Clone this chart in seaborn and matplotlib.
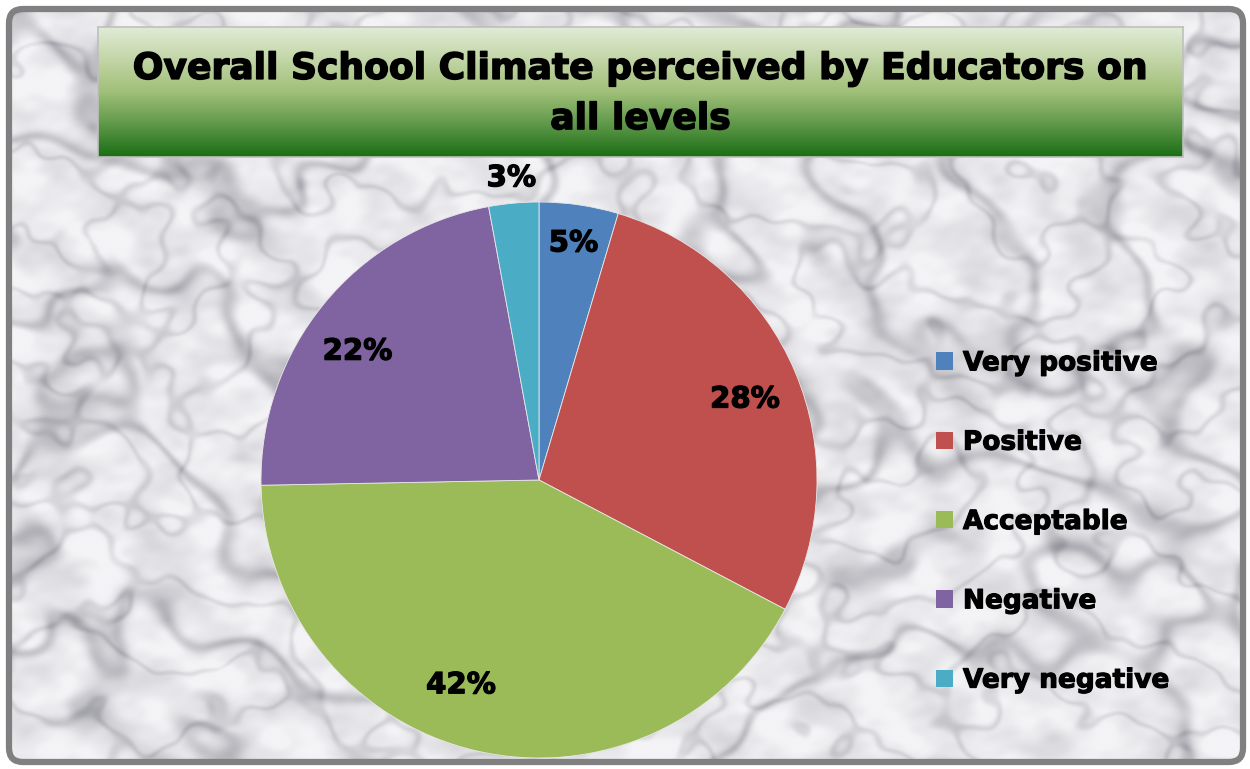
import numpy as np
import matplotlib
matplotlib.use("Agg")
import matplotlib.pyplot as plt
import matplotlib.patheffects as pe
import seaborn as sns
from matplotlib.patches import FancyBboxPatch
from matplotlib.colors import LinearSegmentedColormap

categories = ["Very positive", "Positive", "Acceptable", "Negative", "Very negative"]
shares = [4.6, 28.1, 42.0, 22.4, 2.9]
slice_colors = ["#4f81bd", "#c0504d", "#9bbb59", "#8064a2", "#4bacc6"]
title_text = "Overall School Climate perceived by Educators on\nall levels"

sns.set_theme(style="white")
plt.rcParams["font.family"] = ["DejaVu Sans"]
plt.rcParams["text.color"] = "black"

W, H = 1250, 769
fig = plt.figure(figsize=(W / 100, H / 100), dpi=100)
fig.patch.set_facecolor("white")

# ---- background: marble-like texture with grey rounded frame (decoration only) ----
bg = fig.add_axes([0, 0, 1, 1])
bg.set_xlim(0, W)
bg.set_ylim(H, 0)
bg.axis("off")
yy, xx = np.mgrid[0:H:2, 0:W:2].astype(float)
# slight diagonal stretch so veins lean like natural marble
uu = 0.85 * xx + 0.35 * yy
vv = -0.35 * xx + 1.15 * yy


def smooth_field(base, n, offset):
    k = np.arange(n)
    ang = k * 2.39996 + offset
    freq = base * 1.3 ** (k % 8)
    phase = k * 1.7 + offset * 3.1
    amp = freq ** -0.9
    amp = amp / amp.sum()
    f = np.zeros_like(xx)
    for a, fr, p, m in zip(ang, freq, phase, amp):
        f += m * np.sin(fr * (np.cos(a) * uu + np.sin(a) * vv) + p)
    return (f - f.mean()) / f.std()


n1 = smooth_field(0.016, 32, 0.4)
n2 = smooth_field(0.032, 32, 1.3)
n3 = smooth_field(0.06, 24, 2.2)
val = (0.935 + 0.02 * n3
       - 0.12 * np.exp(-(n1 / 0.26) ** 2)
       - 0.08 * np.exp(-(n2 / 0.22) ** 2))
marble = LinearSegmentedColormap.from_list("marble", ["#8a8a92", "#f4f4f7"])
im = bg.imshow(val, cmap=marble, vmin=0.66, vmax=0.96, extent=(6, W - 4, H - 4, 6),
               interpolation="bicubic", zorder=1)
clip = FancyBboxPatch((9, 9), W - 16, H - 16, boxstyle="round,pad=0,rounding_size=14",
                      transform=bg.transData, facecolor="none", edgecolor="none")
bg.add_patch(clip)
im.set_clip_path(clip)
frame = FancyBboxPatch((9, 9), W - 16, H - 16, boxstyle="round,pad=0,rounding_size=14",
                       facecolor="none", edgecolor="#808080", linewidth=4.5, zorder=3)
bg.add_patch(frame)

heavy = [pe.withStroke(linewidth=1.1, foreground="black")]

# ---- title box with green gradient ----
tx0, ty0, tx1, ty1 = 98, 27, 1183, 157
tax = fig.add_axes([tx0 / W, 1 - ty1 / H, (tx1 - tx0) / W, (ty1 - ty0) / H])
grad = LinearSegmentedColormap.from_list("g", ["#e0ebd6", "#c2d5a6", "#a0bf78", "#5f984a", "#1a6e14"])
tax.imshow(np.linspace(0, 1, 200).reshape(-1, 1), cmap=grad, aspect="auto", extent=(0, 1, 0, 1))
tax.set_xticks([])
tax.set_yticks([])
for s in tax.spines.values():
    s.set_color("#bfbfbf")
    s.set_linewidth(1.2)
tax.text(0.5, 0.485, title_text, ha="center", va="center", fontsize=26, fontweight="bold",
         color="black", linespacing=1.6, transform=tax.transAxes, path_effects=heavy)

# ---- pie ----
cx, cy, R = 539, 480, 278
ax = fig.add_axes([(cx - R) / W, 1 - (cy + R) / H, 2 * R / W, 2 * R / H])
ax.set_facecolor("none")
wedges, texts, autotexts = ax.pie(shares, colors=slice_colors, startangle=90, counterclock=False,
                                  autopct="%.0f%%", pctdistance=0.8, radius=1,
                                  wedgeprops=dict(edgecolor="#e8e8e8", linewidth=0.6),
                                  textprops=dict(fontsize=21, fontweight="bold", color="black"))
ax.set_xlim(-1, 1)
ax.set_ylim(-1, 1)
ax.set_aspect("equal")
ax.axis("off")
for w, t, v in zip(wedges, autotexts, shares):
    mid = (w.theta1 + w.theta2) / 2
    if v < 4:
        r = 1.09
    elif v < 10:
        r = 0.86
    elif v > 40:
        r, mid = 0.79, mid - 7.5
    elif v > 25:
        r, mid = 0.795, mid - 1.5
    else:
        r, mid = 0.80, mid + 4
    m = np.deg2rad(mid)
    t.set_position((r * np.cos(m), r * np.sin(m)))
    t.set_path_effects([pe.withStroke(linewidth=0.9, foreground="black")])

# ---- legend ----
leg = fig.legend(wedges, categories, loc="center left", bbox_to_anchor=(936 / W, 1 - 522 / H),
                 frameon=False, prop=dict(weight="bold", size=19),
                 handlelength=0.64, handleheight=0.64, handletextpad=0.38,
                 labelspacing=2.02, borderpad=0, borderaxespad=0)
for h in leg.legend_handles:
    h.set_edgecolor("none")
for t in leg.get_texts():
    t.set_color("black")
    t.set_path_effects([pe.withStroke(linewidth=0.8, foreground="black")])

fig.savefig("out.png", dpi=100)
